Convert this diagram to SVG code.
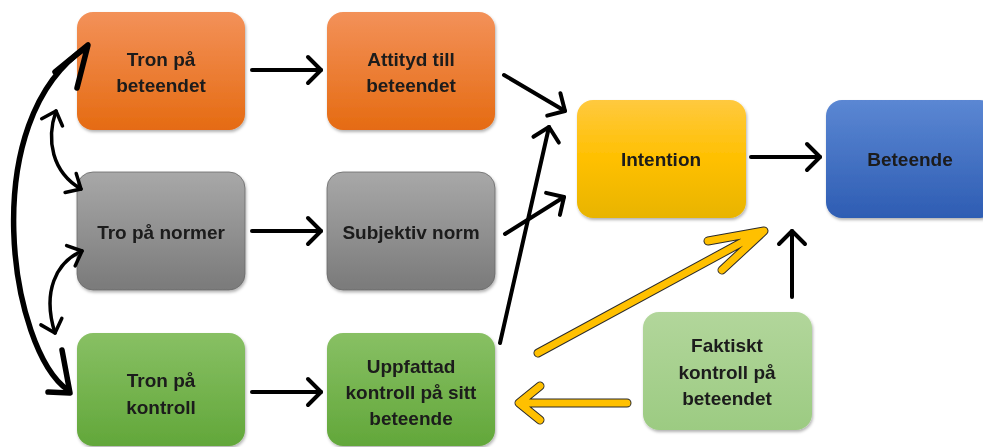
<svg xmlns="http://www.w3.org/2000/svg" width="983" height="447" viewBox="0 0 983 447">
<defs>
<linearGradient id="gOr" x1="0" y1="0" x2="0" y2="1"><stop offset="0" stop-color="#F39159"/><stop offset="1" stop-color="#E56B12"/></linearGradient>
<linearGradient id="gGr" x1="0" y1="0" x2="0" y2="1"><stop offset="0" stop-color="#A8A8A8"/><stop offset="1" stop-color="#7A7A7A"/></linearGradient>
<linearGradient id="gGn" x1="0" y1="0" x2="0" y2="1"><stop offset="0" stop-color="#88C064"/><stop offset="1" stop-color="#62A73A"/></linearGradient>
<linearGradient id="gLg" x1="0" y1="0" x2="0" y2="1"><stop offset="0" stop-color="#B2D69B"/><stop offset="1" stop-color="#9CCB82"/></linearGradient>
<linearGradient id="gYe" x1="0" y1="0" x2="0" y2="1"><stop offset="0" stop-color="#FFC93F"/><stop offset="0.5" stop-color="#FFC000"/><stop offset="1" stop-color="#E8B400"/></linearGradient>
<linearGradient id="gBl" x1="0" y1="0" x2="0" y2="1"><stop offset="0" stop-color="#5B87D3"/><stop offset="1" stop-color="#2E5DB3"/></linearGradient>
<filter id="sh" x="-10%" y="-10%" width="125%" height="130%"><feDropShadow dx="1" dy="2" stdDeviation="1.5" flood-color="#000" flood-opacity="0.3"/></filter>
<marker id="ah" viewBox="-16 -16 32 32" refX="0" refY="0" markerWidth="32" markerHeight="32" markerUnits="userSpaceOnUse" orient="auto-start-reverse">
<path d="M-13,-13 L0,0 L-13,13" fill="none" stroke="#000" stroke-width="4" stroke-linecap="round" stroke-linejoin="round"/>
</marker>
<marker id="ah2" viewBox="-16 -16 32 32" refX="0" refY="0" markerWidth="32" markerHeight="32" markerUnits="userSpaceOnUse" orient="auto-start-reverse">
<path d="M-12,-11 L0,0 L-12,11" fill="none" stroke="#000" stroke-width="3.5" stroke-linecap="round" stroke-linejoin="round"/>
</marker>
</defs>
<style>
.box{filter:url(#sh)}
.t{font-family:"Liberation Sans",Arial,sans-serif;font-weight:bold;font-size:19px;fill:#1a1a1a;text-anchor:middle}
.c{fill:none;stroke:#000;stroke-width:4;stroke-linecap:round;marker-end:url(#ah)}
.d{fill:none;stroke:#000;stroke-width:3.5;stroke-linecap:round;marker-end:url(#ah2);marker-start:url(#ah2)}
.big{fill:none;stroke:#000;stroke-width:5.5;stroke-linecap:round;stroke-linejoin:round}
.yo{fill:none;stroke:#2b2b2b;stroke-width:9;stroke-linecap:round;stroke-linejoin:round}
.yi{fill:none;stroke:#FFC000;stroke-width:7;stroke-linecap:round;stroke-linejoin:round}
</style>

<g id="n-tron-beteendet" class="box"><rect x="77" y="12" width="168" height="118" rx="16" fill="url(#gOr)"/><text class="t" x="161" y="66">Tron på</text><text class="t" x="161" y="92">beteendet</text></g>
<g id="n-tro-normer" class="box"><rect x="77" y="172" width="168" height="118" rx="16" fill="url(#gGr)" stroke="#6a6a6a" stroke-width="0.8"/><text class="t" x="161" y="239">Tro på normer</text></g>
<g id="n-tron-kontroll" class="box"><rect x="77" y="333" width="168" height="113" rx="16" fill="url(#gGn)"/><text class="t" x="161" y="387">Tron på</text><text class="t" x="161" y="414">kontroll</text></g>
<g id="n-attityd" class="box"><rect x="327" y="12" width="168" height="118" rx="16" fill="url(#gOr)"/><text class="t" x="411" y="66">Attityd till</text><text class="t" x="411" y="92">beteendet</text></g>
<g id="n-subjektiv" class="box"><rect x="327" y="172" width="168" height="118" rx="16" fill="url(#gGr)" stroke="#6a6a6a" stroke-width="0.8"/><text class="t" x="411" y="239">Subjektiv norm</text></g>
<g id="n-uppfattad" class="box"><rect x="327" y="333" width="168" height="113" rx="16" fill="url(#gGn)"/><text class="t" x="411" y="373">Uppfattad</text><text class="t" x="411" y="399">kontroll på sitt</text><text class="t" x="411" y="425">beteende</text></g>
<g id="n-intention" class="box"><rect x="577" y="100" width="169" height="118" rx="16" fill="url(#gYe)"/><text class="t" x="661" y="166">Intention</text></g>
<g id="n-beteende" class="box"><rect x="826" y="100" width="170" height="118" rx="16" fill="url(#gBl)"/><text class="t" x="910" y="166">Beteende</text></g>
<g id="n-faktiskt" class="box"><rect x="643" y="312" width="169" height="118" rx="16" fill="url(#gLg)"/><text class="t" x="727" y="352">Faktiskt</text><text class="t" x="727" y="379">kontroll på</text><text class="t" x="727" y="405">beteendet</text></g>

<g id="connectors">
<line class="c" x1="252" y1="70" x2="321" y2="70"/>
<line class="c" x1="252" y1="231" x2="321" y2="231"/>
<line class="c" x1="252" y1="392" x2="321" y2="392"/>
<line class="c" x1="751" y1="157" x2="820" y2="157"/>
<line class="c" x1="504" y1="75" x2="565" y2="111"/>
<line class="c" x1="505" y1="234" x2="564" y2="197"/>
<line class="c" x1="500" y1="343" x2="549" y2="127"/>
<line class="c" x1="792" y1="297" x2="792" y2="231"/>
<path class="big" d="M68,390 C10,350 -25,120 87,47"/>
<path class="big" d="M55,72 L88,45 L77,88"/>
<path class="big" d="M62,350 L70,393 L48,392"/>
<path class="d" d="M56,111 C46,140 52,172 81,189"/>
<path class="d" d="M82,251 C56,262 42,292 55,333"/>
<path class="yo" d="M538,353 L761,232 M708,241 L764,231 L722,270"/>
<path class="yi" d="M538,353 L761,232 M708,241 L764,231 L722,270"/>
<path class="yo" d="M627,403 L521,403 M540,386 L519,403 L540,420"/>
<path class="yi" d="M627,403 L521,403 M540,386 L519,403 L540,420"/>
</g>
</svg>
